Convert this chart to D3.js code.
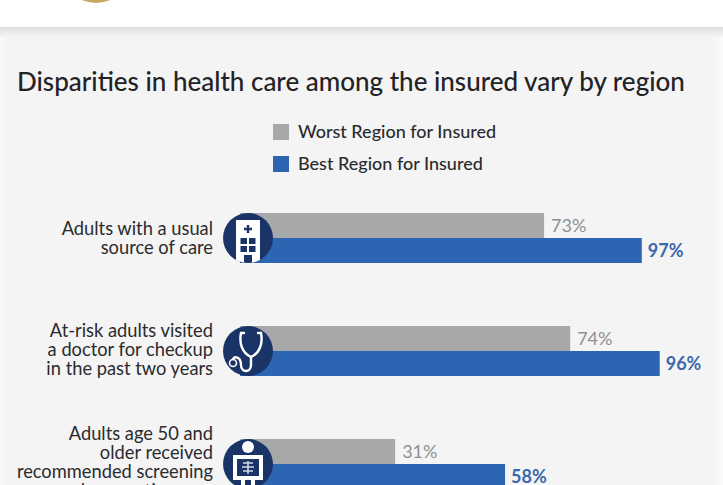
<!DOCTYPE html>
<html lang="en">
<head>
<meta charset="utf-8">
<title>Disparities in health care among the insured</title>
<script src="https://d3js.org/d3.v7.min.js"></script>
<style>
body { margin: 0; background: #f4f4f5; overflow: hidden; }
svg { display: block; font-family: Lato, sans-serif; }
</style>
</head>
<body>
<svg id="chart" width="723" height="485"></svg>
<script>
var titleText = "Disparities in health care among the insured vary by region";
var seriesNames = ["Worst Region for Insured", "Best Region for Insured"];
var categories = ["usual", "checkup", "screening"];
var categoryLines = [
  ["Adults with a usual", "source of care"],
  ["At-risk adults visited", "a doctor for checkup", "in the past two years"],
  ["Adults age 50 and", "older received", "recommended screening", "and preventive care"]
];
var worstValues = [73, 74, 31];
var bestValues = [97, 96, 58];

var colors = ["#a7a8aa", "#2c66b3"];
var labelColors = ["#8f9093", "#3c68ad"];
var navy = "#1b3468";
var ink = "#2b2b2d";

var svg = d3.select("#chart");

// page furniture: white header strip, soft shadow, lighter side edges
var defs = svg.append("defs");
var shadow = defs.append("linearGradient").attr("id", "shadow").attr("x2", 0).attr("y2", 1);
shadow.append("stop").attr("offset", 0).attr("stop-color", "#dedede");
shadow.append("stop").attr("offset", 1).attr("stop-color", "#f4f4f5");
var edge = defs.append("linearGradient").attr("id", "edge");
edge.append("stop").attr("offset", 0).attr("stop-color", "#f4f4f5");
edge.append("stop").attr("offset", 1).attr("stop-color", "#fbfbfb");
defs.append("clipPath").attr("id", "disc").append("circle").attr("r", 25);

svg.append("rect").attr("x", 0).attr("y", 27).attr("width", 723).attr("height", 10).attr("fill", "url(#shadow)");
svg.append("rect").attr("x", 712).attr("y", 37).attr("width", 11).attr("height", 448).attr("fill", "url(#edge)");
svg.append("rect").attr("x", 0).attr("y", 37).attr("width", 4).attr("height", 448).attr("fill", "#f8f8f8");
svg.append("rect").attr("x", 0).attr("y", 0).attr("width", 723).attr("height", 27).attr("fill", "#ffffff");
// bottom of the cropped seal
svg.append("ellipse").attr("cx", 96).attr("cy", -12).attr("rx", 23).attr("ry", 15)
  .attr("fill", "#c9a860");

svg.append("text")
  .attr("x", 17).attr("y", 91)
  .attr("font-size", 26).attr("font-weight", 500).attr("fill", "#232325")
  .text(titleText);

// legend
var legendY = d3.scalePoint().domain(seriesNames).range([132, 164]);
var legend = svg.selectAll("g.legend").data(seriesNames).enter().append("g")
  .attr("class", "legend")
  .attr("transform", function(d) { return "translate(273," + legendY(d) + ")"; });
legend.append("rect").attr("x", 0).attr("y", -8).attr("width", 16).attr("height", 16)
  .attr("fill", function(d, i) { return colors[i]; });
legend.append("text").attr("x", 25).attr("y", 6)
  .attr("font-size", 18).attr("font-weight", 500).attr("fill", ink)
  .text(function(d) { return d; });

// scales: rows step 113px, bars meet on the row's centre line
var x = d3.scaleLinear().domain([0, 100]).range([269, 676]);
var y = d3.scalePoint().domain(categories).range([238, 464]);
var barH = 25;
// the first row sits left of the common scale in the original graphic
var rowShift = [-22, 0, 0];

var rows = svg.selectAll("g.row").data(categories).enter().append("g")
  .attr("class", "row")
  .attr("transform", function(d) { return "translate(0," + y(d) + ")"; });

rows.append("rect").attr("x", 240).attr("y", -barH)
  .attr("width", function(d, i) { return x(worstValues[i]) + rowShift[i] - 240; })
  .attr("height", barH).attr("fill", colors[0]);
rows.append("rect").attr("x", 240).attr("y", 0)
  .attr("width", function(d, i) { return x(bestValues[i]) + rowShift[i] - 240; })
  .attr("height", barH).attr("fill", colors[1]);

rows.append("text")
  .attr("x", function(d, i) { return x(worstValues[i]) + rowShift[i] + 7; })
  .attr("y", -6).attr("font-size", 18).attr("fill", labelColors[0])
  .text(function(d, i) { return worstValues[i] + "%"; });
rows.append("text")
  .attr("x", function(d, i) { return x(bestValues[i]) + rowShift[i] + 6; })
  .attr("y", 19).attr("font-size", 18).attr("font-weight", 700).attr("fill", labelColors[1])
  .text(function(d, i) { return bestValues[i] + "%"; });

// row labels, right aligned against the icon
var labelTop = [-3, -14, -24];
rows.each(function(d, i) {
  var t = d3.select(this).append("text")
    .attr("text-anchor", "end").attr("font-size", 18.3).attr("fill", ink);
  categoryLines[i].forEach(function(line, k) {
    t.append("tspan").attr("x", 213).attr("y", labelTop[i] + k * 19).text(line);
  });
});

// icons
rows.append("circle").attr("cx", 248).attr("cy", 0).attr("r", 25).attr("fill", navy);

var hospital = d3.select(rows.nodes()[0]).append("g").attr("transform", "translate(248,0)")
  .append("g").attr("clip-path", "url(#disc)");
hospital.append("rect").attr("x", -12).attr("y", -18).attr("width", 24).attr("height", 43).attr("fill", "#fff");
hospital.append("rect").attr("x", -4).attr("y", 17).attr("width", 8).attr("height", 8).attr("fill", navy);
hospital.append("path").attr("d", "M-1.2,-13 H1.2 V-10.2 H4 V-7.8 H1.2 V-5 H-1.2 V-7.8 H-4 V-10.2 H-1.2 Z").attr("fill", navy);
[-7.5, 1].forEach(function(gx) {
  [0, 8].forEach(function(gy) {
    hospital.append("rect").attr("x", gx).attr("y", gy).attr("width", 6.5).attr("height", 6).attr("fill", navy);
  });
});

var scope = d3.select(rows.nodes()[1]).append("g").attr("transform", "translate(248,0)")
  .attr("fill", "none").attr("stroke", "#fff").attr("stroke-width", 2.4).attr("stroke-linecap", "round");
scope.append("path").attr("d", "M-4,-18 H-7 C-9,-8 -6,2 3,6 C12,2 15,-8 13,-18 H10");
scope.append("path").attr("d", "M3,6 V14 C3,22 -7,22 -7,14 C-7,6 -13,5 -15,8");
scope.append("circle").attr("cx", -15).attr("cy", 12).attr("r", 3.5).attr("stroke-width", 1.6);

var xray = d3.select(rows.nodes()[2]).append("g").attr("transform", "translate(248,0)");
xray.append("circle").attr("cx", 0).attr("cy", -17).attr("r", 6).attr("fill", "#fff");
xray.append("rect").attr("x", -15).attr("y", -9).attr("width", 30).attr("height", 25).attr("fill", "#fff");
xray.append("rect").attr("x", -11).attr("y", -5).attr("width", 22).attr("height", 17).attr("fill", navy);
xray.append("path").attr("d", "M0,-3 V10 M-5,-1 H5 M-6,3 H6 M-5,7 H5")
  .attr("stroke", "#cfd6e4").attr("stroke-width", 1.6).attr("fill", "none");
xray.append("rect").attr("x", -7).attr("y", 16).attr("width", 4).attr("height", 7).attr("fill", "#fff");
xray.append("rect").attr("x", 3).attr("y", 16).attr("width", 4).attr("height", 7).attr("fill", "#fff");
</script>
</body>
</html>
